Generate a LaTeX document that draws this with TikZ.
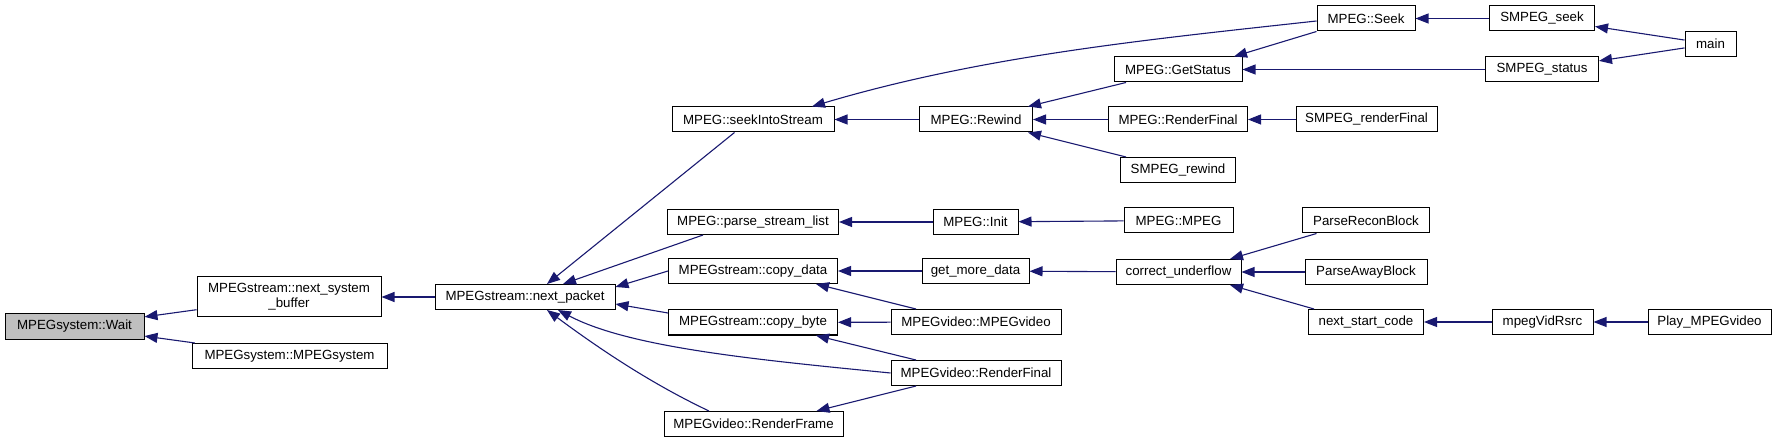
\documentclass[tikz,border=0pt]{standalone}
\usepackage{fontspec}
\setmainfont{Liberation Sans}
\usetikzlibrary{arrows.meta,calc}
\definecolor{edgeblue}{HTML}{191970}
\definecolor{hlgray}{HTML}{BFBFBF}
\tikzset{
  fn/.style={draw=black, line width=1pt, fill=white, inner sep=0pt,
    font=\fontsize{13.3}{15}\selectfont, text=black, align=center, minimum height=25pt},
  calls/.style={draw=edgeblue, line width=1.1pt, -{Triangle[length=13pt,width=10pt,fill=edgeblue]}}
}
\begin{document}
\begin{tikzpicture}[x=1pt,y=-1pt]
\useasboundingbox (0,0) rectangle (1779,443);
% column 0
\node[fn, fill=hlgray, minimum width=139pt] (wait) at (74.5,326.5) {MPEGsystem::Wait};
% column 1
\node[fn, minimum width=184pt, minimum height=40pt] (nsb) at (289,297) {MPEGstream::next\_system\\\_buffer};
\node[fn, minimum width=195pt] (mpegsys) at (289.5,356) {MPEGsystem::MPEGsystem};
% column 2
\node[fn, minimum width=180pt] (npacket) at (525,297) {MPEGstream::next\_packet};
% column 3
\node[fn, minimum width=162pt] (seekis) at (753,119.5) {MPEG::seekIntoStream};
\node[fn, minimum width=171pt] (parsesl) at (753,222) {MPEG::parse\_stream\_list};
\node[fn, minimum width=169pt] (copydata) at (753,271) {MPEGstream::copy\_data};
\node[fn, minimum width=169pt] (copybyte) at (753,322.5) {MPEGstream::copy\_byte};
\node[fn, minimum width=179pt] (renderframe) at (753.5,424) {MPEGvideo::RenderFrame};
% column 4
\node[fn, minimum width=113pt] (rewind) at (976,119.5) {MPEG::Rewind};
\node[fn, minimum width=85pt] (init) at (975.5,222) {MPEG::Init};
\node[fn, minimum width=107pt] (getmore) at (975.5,271) {get\_more\_data};
\node[fn, minimum width=170pt] (vidvideo) at (976,322) {MPEGvideo::MPEGvideo};
\node[fn, minimum width=170pt] (vidrender) at (976,373) {MPEGvideo::RenderFinal};
% column 5
\node[fn, minimum width=128pt] (getstatus) at (1178,69.5) {MPEG::GetStatus};
\node[fn, minimum width=139pt] (mrender) at (1178,119.5) {MPEG::RenderFinal};
\node[fn, minimum width=115pt] (smrewind) at (1178,170) {SMPEG\_rewind};
\node[fn, minimum width=109pt] (mmpeg) at (1178.5,220.5) {MPEG::MPEG};
\node[fn, minimum width=125pt] (corrund) at (1178.5,272) {correct\_underflow};
% column 6
\node[fn, minimum width=98pt] (seek) at (1366,18.5) {MPEG::Seek};
\node[fn, minimum width=141pt] (smrenderfinal) at (1366.5,119.5) {SMPEG\_renderFinal};
\node[fn, minimum width=127pt] (parserecon) at (1366,220.5) {ParseReconBlock};
\node[fn, minimum width=122pt] (parseaway) at (1366,272) {ParseAwayBlock};
\node[fn, minimum width=115pt] (nextstart) at (1366,322) {next\_start\_code};
% column 7
\node[fn, minimum width=105pt] (smseek) at (1542,18.5) {SMPEG\_seek};
\node[fn, minimum width=113pt] (smstatus) at (1542,69.5) {SMPEG\_status};
\node[fn, minimum width=101pt] (mpegvid) at (1542.5,322) {mpegVidRsrc};
% column 8
\node[fn, minimum width=51pt] (main) at (1710.5,44) {main};
\node[fn, minimum width=123pt] (play) at (1709.5,322) {Play\_MPEGvideo};

% edges
\draw[calls] (nsb) -- (wait);
\draw[calls] (mpegsys) -- (wait);
\draw[calls] (npacket) -- (nsb);
\draw[calls] ($(seekis.south)+(-18.5,0)$) -- ($(npacket.north)+(22,0)$);
\draw[calls] ($(parsesl.south)+(-50,0)$) -- ($(npacket.north)+(38,0)$);
\draw[calls] (copydata.west) -- ($(npacket.east)+(0,-10)$);
\draw[calls] ($(copybyte.west)+(0,-9.5)$) -- ($(npacket.east)+(0,7)$);
\draw[calls] (vidrender.west) .. controls (760,360) and (630,348) .. ($(npacket.south)+(33,0)$);
\draw[calls] ($(renderframe.north)+(-44.5,0)$) .. controls (652,384) and (601,350) .. ($(npacket.south)+(22,0)$);
\draw[calls] (rewind) -- (seekis);
\draw[calls] ($(seek.west)+(0,2.5)$) .. controls (1146,39.7) and (982,56) .. ($(seekis.north)+(59,0)$);
\draw[calls] ($(getstatus.south)+(-52,0)$) -- ($(rewind.north)+(52,0)$);
\draw[calls] (mrender) -- (rewind);
\draw[calls] ($(smrewind.north)+(-52,0)$) -- ($(rewind.south)+(52,0)$);
\draw[calls] (seek.south west) -- ($(getstatus.north)+(56,0)$);
\draw[calls] (smstatus) -- (getstatus);
\draw[calls] (smseek) -- (seek);
\draw[calls] (main) -- (smseek);
\draw[calls] (main) -- (smstatus);
\draw[calls] (smrenderfinal) -- (mrender);
\draw[calls] (init) -- (parsesl);
\draw[calls] (mmpeg) -- (init);
\draw[calls] (getmore) -- (copydata);
\draw[calls] (corrund) -- (getmore);
\draw[calls] ($(vidvideo.north)+(-60,0)$) -- ($(copydata.south)+(63,0)$);
\draw[calls] (vidvideo) -- (copybyte);
\draw[calls] ($(vidrender.north)+(-60,0)$) -- ($(copybyte.south)+(63,0)$);
\draw[calls] ($(vidrender.south)+(-60,0)$) -- ($(renderframe.north)+(63,0)$);
\draw[calls] ($(parserecon.south)+(-49.5,0)$) -- ($(corrund.north)+(51.5,0)$);
\draw[calls] (parseaway) -- (corrund);
\draw[calls] ($(nextstart.north)+(-52,0)$) -- ($(corrund.south)+(51.5,0)$);
\draw[calls] (mpegvid) -- (nextstart);
\draw[calls] (play) -- (mpegvid);
\end{tikzpicture}
\end{document}
